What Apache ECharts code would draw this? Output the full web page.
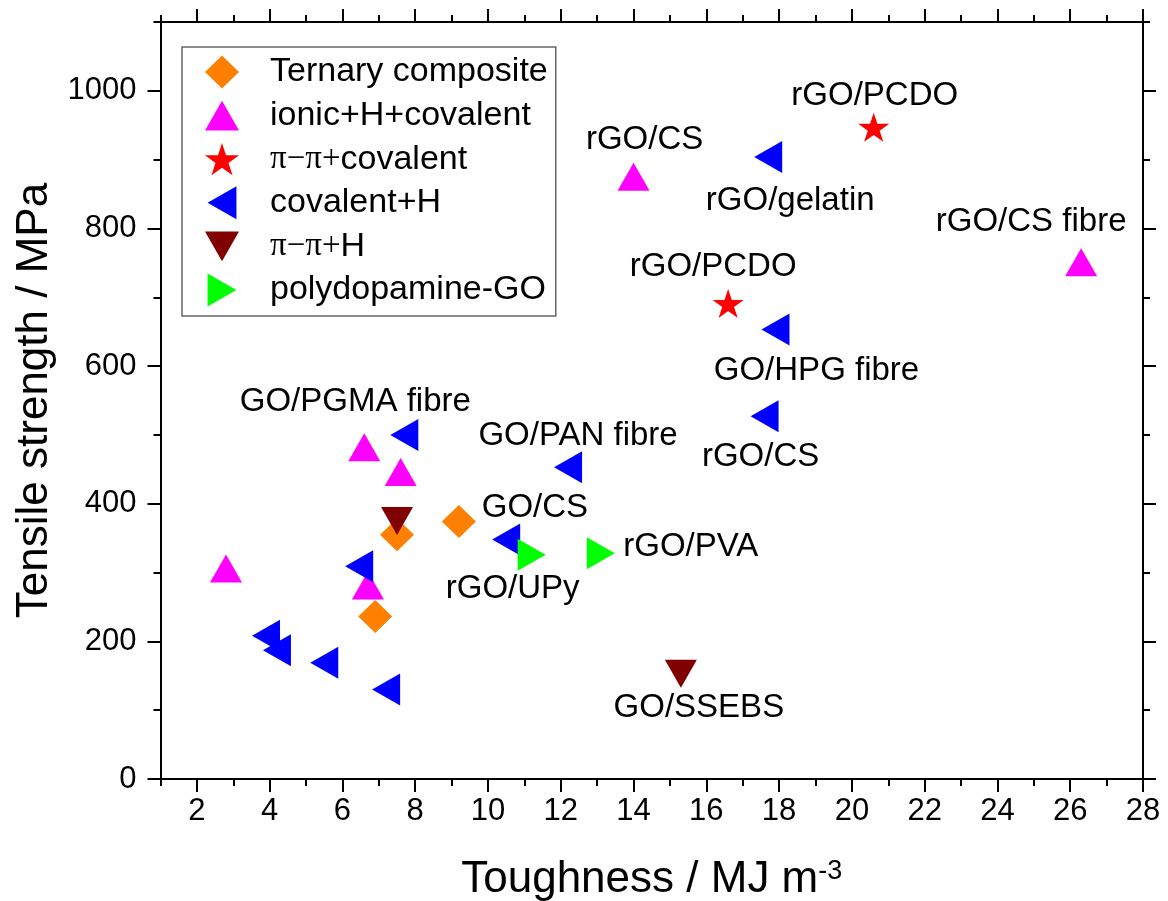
<!DOCTYPE html>
<html>
<head>
<meta charset="utf-8">
<script src="https://cdn.jsdelivr.net/npm/echarts@6/dist/echarts.min.js"></script>
<style>
html,body{margin:0;padding:0;background:#fff;}
#chart{width:1168px;height:901px;}
</style>
</head>
<body>
<div id="chart"></div>
<script>
// ---- axis ranges & ticks ----
const xRange = [1, 28];
const yRange = [0, 1100];
const xMajorTicks = [2,4,6,8,10,12,14,16,18,20,22,24,26,28];
const xMinorTicks = [1,3,5,7,9,11,13,15,17,19,21,23,25,27];
const yMajorTicks = [0,200,400,600,800,1000];
const yMinorTicks = [100,300,500,700,900,1100];

// ---- series names ----
const seriesNames = ['Ternary composite','ionic+H+covalent','π−π+covalent','covalent+H','π−π+H','polydopamine-GO'];

// ---- data [toughness MJ m^-3, tensile strength MPa] ----
const ternaryComposite = [[7.5,355],[6.9,236],[9.2,374]];
const ionicHCovalent = [[6.6,482],[7.6,446],[2.8,306],[6.7,281],[14.0,875],[26.3,751]];
const piPiCovalent = [[20.6,947],[16.6,691]];
const covalentH = [[7.7,500],[6.46,309],[3.9,208],[4.2,187],[5.5,169],[7.2,130],[12.2,453],[10.5,348],[17.6,527],[17.7,904],[17.9,653]];
const piPiH = [[7.5,375],[15.3,153]];
const polydopamineGO = [[11.2,326],[13.1,328]];

// ---- annotation texts: [series array, point index, text] ----
const annotationTexts = [
  ['covalentH',0,'GO/PGMA fibre'],
  ['covalentH',6,'GO/PAN fibre'],
  ['ternaryComposite',2,'GO/CS'],
  ['polydopamineGO',1,'rGO/PVA'],
  ['polydopamineGO',0,'rGO/UPy'],
  ['piPiH',1,'GO/SSEBS'],
  ['ionicHCovalent',4,'rGO/CS'],
  ['piPiCovalent',0,'rGO/PCDO'],
  ['covalentH',9,'rGO/gelatin'],
  ['piPiCovalent',1,'rGO/PCDO'],
  ['covalentH',10,'GO/HPG fibre'],
  ['covalentH',8,'rGO/CS'],
  ['ionicHCovalent',5,'rGO/CS fibre']
];

// ---- styling (positions of annotation text relative to marker, px) ----
const annotationOffsets = [[-49,-33],[10,-31],[76,-14],[90,-6],[-19,34],[18,34],[11,-37],[1,-31],[22,44],[-15,-37],[41,41],[-4,41],[-50,-40]];

const dataSets = {ternaryComposite, ionicHCovalent, piPiCovalent, covalentH, piPiH, polydopamineGO};
const FONT = '"Liberation Sans", Arial, sans-serif';
const SERIF = '"Liberation Serif", "Times New Roman", serif';
const STAR = 'path://M50,0 L61.2,34.5 L97.6,34.5 L68.2,55.9 L79.4,90.5 L50,69.1 L20.6,90.5 L31.8,55.9 L2.4,34.5 L38.8,34.5 Z';
const TRI_UP = 'path://M16,0 L32,28 L0,28 Z';
const TRI_LEFT = 'path://M0,16 L28,0 L28,32 Z';
const TRI_DOWN = 'path://M0,0 L32,0 L16,28 Z';
const TRI_RIGHT = 'path://M0,0 L28,16 L0,32 Z';
const DIAMOND = 'path://M17,0 L34,16.5 L17,33 L0,16.5 Z';

const styles = [
  {symbol:'diamond', size:[34,33], rot:0, color:'#FF8000', icon: DIAMOND},
  {symbol:'triangle', size:[32,28], rot:0, color:'#FF00FF', icon: TRI_UP},
  {symbol:STAR, size:[31,29], rot:0, color:'#FF0000', icon: STAR},
  {symbol:'triangle', size:[32,28], rot:90, color:'#0000FF', icon: TRI_LEFT},
  {symbol:'triangle', size:[32,28], rot:180, color:'#800000', icon: TRI_DOWN},
  {symbol:'triangle', size:[32,28], rot:-90, color:'#00FF00', icon: TRI_RIGHT}
];
const seriesData = [ternaryComposite, ionicHCovalent, piPiCovalent, covalentH, piPiH, polydopamineGO];

const series = seriesData.map((d, i) => ({
  name: seriesNames[i],
  type: 'scatter',
  data: d,
  symbol: styles[i].symbol,
  symbolSize: styles[i].size,
  symbolRotate: styles[i].rot,
  symbolKeepAspect: false,
  itemStyle: {color: styles[i].color, opacity: 1},
  emphasis: {disabled: true},
  xAxisIndex: 0, yAxisIndex: 0
}));

series.push({
  name: 'annotations',
  type: 'scatter',
  silent: true,
  symbol: 'circle',
  symbolSize: 1,
  itemStyle: {color: 'rgba(255,255,255,0)'},
  emphasis: {disabled: true},
  z: 10,
  data: annotationTexts.map((a, k) => ({
    value: dataSets[a[0]][a[1]],
    name: a[2],
    label: {
      show: true,
      position: 'inside',
      offset: annotationOffsets[k],
      formatter: a[2],
      color: '#000',
      opacity: 1,
      textBorderWidth: 0,
      fontSize: 33,
      fontFamily: FONT
    }
  }))
});

const axisLineStyle = {color:'#000', width:2};
const plainNum = v => String(v);

function xAxisDef(pos, major, showLabel) {
  return {
    type:'value', position: pos, min: xRange[0], max: xRange[1],
    axisLine: {show: major, onZero:false, lineStyle: axisLineStyle},
    axisTick: {show:true, inside:false, length: major ? 13 : 7, lineStyle: axisLineStyle,
               customValues: major ? xMajorTicks : xMinorTicks},
    axisLabel: showLabel ? {show:true, customValues: xMajorTicks, formatter: plainNum, margin: 17, color:'#000', fontSize:31, fontFamily:FONT} : {show:false},
    splitLine: {show:false}
  };
}
function yAxisDef(pos, major, showLabel) {
  return {
    type:'value', position: pos, min: yRange[0], max: yRange[1],
    axisLine: {show: major, onZero:false, lineStyle: axisLineStyle},
    axisTick: {show:true, inside:false, length: major ? 13 : 7, lineStyle: axisLineStyle,
               customValues: major ? yMajorTicks : yMinorTicks},
    axisLabel: showLabel ? {show:true, customValues: yMajorTicks, formatter: plainNum, margin: 24, color:'#000', fontSize:31, fontFamily:FONT} : {show:false},
    splitLine: {show:false}
  };
}

const xAxes = [
  Object.assign(xAxisDef('bottom', true, true), {
    name: 'Toughness / MJ m{sup|-3}',
    nameLocation: 'middle',
    nameGap: 79,
    nameTextStyle: {color:'#000', fontSize:44, fontFamily:FONT, lineHeight:44,
      rich: {sup: {fontSize:27, fontFamily:FONT, color:'#000', verticalAlign:'top', lineHeight:27}}}
  }),
  xAxisDef('bottom', false, false),
  xAxisDef('top', true, false),
  xAxisDef('top', false, false)
];
const yAxes = [
  Object.assign(yAxisDef('left', true, true), {
    name: 'Tensile strength / MPa',
    nameLocation: 'middle',
    nameGap: 103,
    nameTextStyle: {color:'#000', fontSize:44, fontFamily:FONT}
  }),
  yAxisDef('left', false, false),
  yAxisDef('right', true, false),
  yAxisDef('right', false, false)
];

const chart = echarts.init(document.getElementById('chart'), null, {renderer:'canvas'});
chart.setOption({
  animation: false,
  backgroundColor: '#fff',
  tooltip: {show:false},
  grid: {left: 160.5, right: 25, top: 22, bottom: 122, containLabel:false, outerBoundsMode: 'none'},
  xAxis: xAxes,
  yAxis: yAxes,
  legend: {
    data: seriesNames.map((n, i) => ({name: n, icon: styles[i].icon})),
    orient: 'vertical',
    left: 182, top: 47,
    padding: [8, 8, 9, 23],
    itemGap: 9.6,
    itemWidth: 34, itemHeight: 33,
    symbolKeepAspect: true,
    symbolRotate: 0,
    borderColor: '#666', borderWidth: 1.5,
    selectedMode: false,
    textStyle: {
      color:'#000', fontSize:34, fontFamily:FONT, lineHeight:34,
      rich: {
        a0: {fontSize:34, fontFamily:FONT, color:'#000', padding:[0,0,0,26], lineHeight:34},
        a: {fontSize:34, fontFamily:FONT, color:'#000', lineHeight:34},
        s: {fontSize:33, fontFamily:SERIF, color:'#000', padding:[0,0,0,26], lineHeight:34}
      }
    },
    formatter: function(name) {
      if (name.indexOf('π−π+') === 0) {
        return '{s|π−π+}{a|' + name.slice(4) + '}';
      }
      return '{a0|' + name + '}';
    }
  },
  series: series
});
</script>
</body>
</html>
